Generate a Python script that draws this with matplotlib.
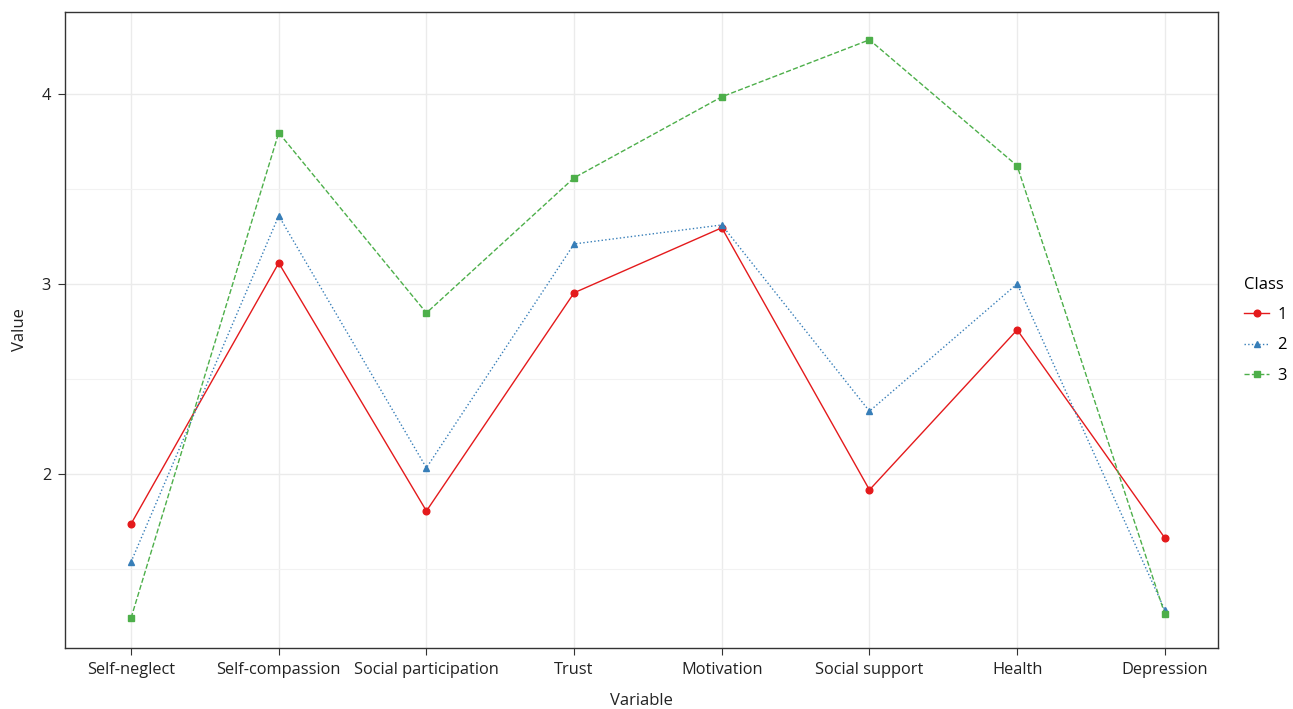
import matplotlib
import matplotlib.pyplot as plt
from matplotlib.ticker import MultipleLocator

matplotlib.use("Agg")

plt.rcParams["font.family"] = ["Open Sans", "DejaVu Sans"]

variables = ["Self-neglect", "Self-compassion", "Social participation", "Trust",
             "Motivation", "Social support", "Health", "Depression"]
class_1 = [1.737, 3.11, 1.805, 2.953, 3.295, 1.916, 2.758, 1.663]
class_2 = [1.537, 3.358, 2.032, 3.21, 3.31, 2.33, 3.0, 1.284]
class_3 = [1.242, 3.795, 2.847, 3.558, 3.984, 4.284, 3.621, 1.263]
class_labels = ["1", "2", "3"]

fig = plt.figure(figsize=(12.93, 7.09), dpi=100)
ax = fig.add_axes([0.0503, 0.086, 0.8917, 0.897])

x = range(len(variables))
styles = [
    (class_1, "#E41A1C", "-", "o"),
    (class_2, "#377EB8", ":", "^"),
    (class_3, "#4DAF4A", "--", "s"),
]
for (vals, color, ls, mk), lab in zip(styles, class_labels):
    ax.plot(x, vals, color=color, linestyle=ls, marker=mk, markersize=4.8,
            linewidth=1.0, label=lab, zorder=3)

ax.set_xlim(-0.447, 7.36)
ax.set_ylim(1.084, 4.43)
ax.set_xticks(list(x))
ax.set_xticklabels(variables)
ax.yaxis.set_major_locator(MultipleLocator(1))
ax.yaxis.set_minor_locator(MultipleLocator(0.5))
ax.grid(which="major", color="#EBEBEB", linewidth=1.0)
ax.grid(which="minor", color="#F2F2F2", linewidth=0.8)
ax.set_axisbelow(True)
ax.tick_params(axis="both", which="major", labelsize=11.8, colors="#333333",
               length=5, width=0.8, labelcolor="#222222", pad=5)
ax.tick_params(axis="y", which="minor", length=0)
for s in ax.spines.values():
    s.set_color("#333333")
    s.set_linewidth(1.0)

ax.set_xlabel("Variable", fontsize=12, color="#222222", labelpad=11)
ax.set_ylabel("Value", fontsize=12, color="#222222", labelpad=10)

leg = fig.legend(*ax.get_legend_handles_labels(), title="Class",
                 loc="upper left", bbox_to_anchor=(1244 / 1293, 1 - 277 / 709),
                 frameon=False, fontsize=12, title_fontsize=12,
                 handlelength=1.5, handletextpad=0.5, labelspacing=0.85,
                 borderaxespad=0, borderpad=0)
leg._legend_box.align = "left"

fig.savefig("out.png", dpi=100)
